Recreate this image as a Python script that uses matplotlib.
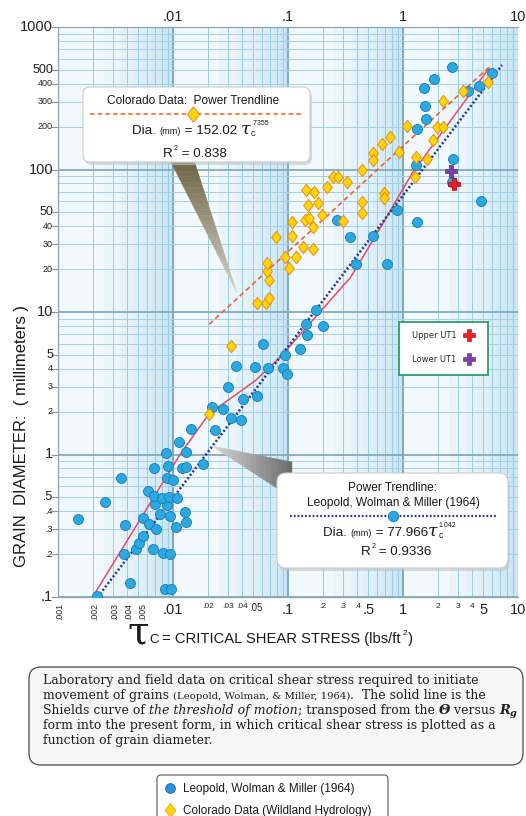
import numpy as np
import matplotlib
matplotlib.use('Agg')
import matplotlib.pyplot as plt
from matplotlib.patches import FancyBboxPatch, Polygon, Rectangle
from matplotlib.transforms import Affine2D, blended_transform_factory
from matplotlib.lines import Line2D
from matplotlib.path import Path

# ---------------- data ----------------
leopold_tau = [0.00218, 0.00423, 0.00851, 0.00961, 0.00375, 0.00476, 0.00506, 0.00548, 0.00670, 0.00818, 0.00942,
               0.00149, 0.00383, 0.00548, 0.00618, 0.00711, 0.00771, 0.00942, 0.0127, 0.0130, 0.0106,
               0.00257, 0.00697, 0.00887, 0.00607, 0.00684, 0.00802, 0.00923, 0.0108,
               0.00353, 0.00887, 0.0100, 0.00684, 0.00906, 0.0120, 0.0130, 0.0182,
               0.00869, 0.0130, 0.0113, 0.0144, 0.0232, 0.0319, 0.0390, 0.0218, 0.0272, 0.0407, 0.0537, 0.0301,
               0.0353, 0.0516, 0.0670, 0.0906, 0.0980, 0.0942, 0.127, 0.0607, 0.146, 0.144, 0.201, 0.175,
               0.390, 0.726, 0.346, 0.548, 0.267, 0.887, 1.32, 4.77,
               2.67, 2.72, 1.30, 1.32, 1.58, 1.55, 1.52, 1.86, 2.67, 3.67, 4.58, 5.94]
leopold_d = [0.102, 0.125, 0.114, 0.114, 0.200, 0.217, 0.240, 0.268, 0.217, 0.204, 0.200,
             0.353, 0.321, 0.359, 0.326, 0.301, 0.383, 0.371, 0.396, 0.337, 0.310,
             0.466, 0.451, 0.444, 0.556, 0.513, 0.497, 0.505, 0.497,
             0.687, 0.687, 0.664, 0.807, 0.834, 0.807, 0.820, 0.861,
             1.03, 1.04, 1.23, 1.52, 1.49, 1.81, 1.75, 2.17, 2.10, 2.47, 2.59, 2.99,
             4.21, 4.14, 4.07, 4.07, 3.70, 5.03, 5.54, 6.01, 6.95, 8.30, 8.04, 10.3,
             21.6, 21.6, 33.4, 34.0, 44.0, 51.7, 42.6, 59.8,
             81.3, 118, 107, 192, 225, 279, 372, 431, 523, 355, 385, 475]

colorado_tau = [0.0206, 0.0319, 0.0537, 0.0645, 0.0684, 0.0684, 0.0656, 0.0656, 0.102, 0.0942, 0.117, 0.135, 0.165,
                0.0787, 0.108, 0.144, 0.168, 0.218, 0.149, 0.182, 0.108, 0.141, 0.152, 0.198, 0.165,
                5.48, 3.33, 2.23, 1.98, 2.23, 1.82, 1.08, 0.771, 0.656, 0.548, 0.548, 0.922, 1.30, 1.62, 1.27,
                0.440, 0.326, 0.246, 0.272, 0.684, 0.684, 0.440, 0.440, 0.301]
colorado_d = [1.93, 5.81, 11.5, 11.5, 12.6, 16.9, 19.3, 21.9, 20.5, 24.2, 24.2, 28.4, 27.5,
              33.4, 34.0, 71.5, 69.2, 75.0, 56.1, 57.9, 42.6, 44.0, 45.4, 47.7, 39.3,
              410, 355, 302, 198, 198, 161, 201, 169, 151, 130, 116, 132, 122, 118, 88.2,
              98.8, 81.3, 88.2, 88.2, 68.1, 62.8, 58.9, 49.2, 43.3]

upper_ut1_tau = [2.78]
upper_ut1_d = [78.8]
lower_ut1_tau = [2.61]
lower_ut1_d = [97.2]

colorado_fit_tau = [0.0206, 5.48]
colorado_fit_d = [8.2, 515]
leopold_fit_tau = [0.00232, 7.26]
leopold_fit_d = [0.105, 541]
shields_tau = [0.002, 0.0115, 0.0206, 0.052, 0.085, 0.35, 0.55, 1.2, 5.6]
shields_d = [0.1, 1.0, 1.93, 3.3, 4.8, 17.5, 32, 94, 515]

x_ticks = [.001, .002, .003, .004, .005, .01, .02, .03, .04, .05, .1, .2, .3, .4, .5, 1, 2, 3, 4, 5, 10]
x_labels = ['.001', '.002', '.003', '.004', '.005', '.01', '.02', '.03', '.04', '.05', '.1',
            '.2', '.3', '.4', '.5', '1', '2', '3', '4', '5', '10']
x_kind = ['r', 'r', 'r', 'r', 'r', 'b', 's', 's', 's', 'm', 'b', 's', 's', 's', 'b', 'b', 's', 's', 's', 'b', 'b']
top_ticks = [.01, .1, 1, 10]
top_labels = ['.01', '.1', '1', '10']
y_ticks = [1000, 500, 400, 300, 200, 100, 50, 40, 30, 20, 10, 5, 4, 3, 2, 1, .5, .4, .3, .2, .1]
y_labels = ['1000', '500', '400', '300', '200', '100', '50', '40', '30', '20', '10', '5', '4', '3', '2',
            '1', '.5', '.4', '.3', '.2', '.1']
y_kind = ['b', 'm', 's', 's', 's', 'b', 'm', 's', 's', 's', 'b', 'm', 's', 's', 's', 'b', 'm', 's', 's', 's', 'b']

# ---------------- figure ----------------
W, H = 526, 816
fig = plt.figure(figsize=(W / 100, H / 100), dpi=100)
fig.patch.set_facecolor('white')
PX = Affine2D().scale(1, -1).translate(0, H)   # top-left pixel coordinates

SANS = ['Liberation Sans', 'DejaVu Sans']
NARROW = ['Liberation Sans Narrow', 'Liberation Sans', 'DejaVu Sans']
SERIF = ['DejaVu Serif']

L, R, T, B = 58, 518, 27, 597
ax = fig.add_axes([L / W, 1 - B / H, (R - L) / W, (B - T) / H])
ax.set_xscale('log')
ax.set_yscale('log')
ax.set_xlim(1e-3, 10)
ax.set_ylim(0.1, 1000)
ax.set_facecolor('#f2f9fc')

# graph-paper shading
for k in range(-3, 1):
    base = 10.0 ** k
    for lo, hi, a in [(2.5, 3.5, 0.10), (3.5, 4.5, 0.18), (4.5, 5.5, 0.26), (5.5, 6.5, 0.33),
                      (6.5, 7.5, 0.40), (7.5, 8.5, 0.47), (8.5, 10, 0.55)]:
        ax.axvspan(lo * base, hi * base, color='#a9d8ee', alpha=a, lw=0, zorder=0)

# grid
for k in range(-3, 1):
    for m in range(1, 10):
        x = m * 10.0 ** k
        if m == 1:
            ax.axvline(x, color='#6f9cb4', lw=1.2, zorder=1)
        else:
            ax.axvline(x, color='#9ccbe0', lw=0.7, zorder=1)
for k in range(-1, 3):
    for m in range(1, 10):
        y = m * 10.0 ** k
        if m == 1:
            ax.axhline(y, color='#7ba4b9', lw=1.2, zorder=1)
        else:
            ax.axhline(y, color='#a8d0e2', lw=0.7, zorder=1)
ax.axhline(1000, color='#7ba4b9', lw=1.2, zorder=1)

for s in ax.spines.values():
    s.set_color('#8fa3ae')
    s.set_linewidth(0.9)
ax.spines['right'].set_visible(False)

ax.set_yticks(y_ticks)
ax.set_yticklabels([])
ax.set_xticks(x_ticks)
ax.set_xticklabels([])
ax.minorticks_off()
ax.tick_params(axis='y', length=5, color='#8899a6', width=0.8)
ax.tick_params(axis='x', length=0)

# lines
ax.plot(shields_tau, shields_d, color='#e8486a', lw=1.1, zorder=3)
ax.plot(leopold_fit_tau, leopold_fit_d, color='#25358c', lw=1.8, ls=(0, (0.8, 0.9)), zorder=3)
ax.plot(colorado_fit_tau, colorado_fit_d, color='#f0622a', lw=1.2, ls=(0, (3, 2)), zorder=3)

# points
diamond = Path([(0, 1), (0.78, 0), (0, -1), (-0.78, 0), (0, 1)],
               [Path.MOVETO, Path.LINETO, Path.LINETO, Path.LINETO, Path.CLOSEPOLY])
ax.scatter(leopold_tau, leopold_d, s=52, c='#2ba8e0', edgecolors='#1a78b0', linewidths=0.6, zorder=4)
ax.scatter(colorado_tau, colorado_d, s=80, marker=diamond, c='#ffd60a', edgecolors='#f08a10',
           linewidths=0.7, zorder=5)
ax.scatter(lower_ut1_tau, lower_ut1_d, s=70, marker='P', c='#7a3fa6', edgecolors='#5b2a85',
           linewidths=0.5, zorder=6)
ax.scatter(upper_ut1_tau, upper_ut1_d, s=70, marker='P', c='#ee1c25', edgecolors='#b00010',
           linewidths=0.5, zorder=6)

# tick labels
ytr = blended_transform_factory(PX, ax.transData)
xtr = blended_transform_factory(ax.transData, PX)
ysz = {'b': 10.5, 'm': 9.0, 's': 6.5}
for v, lab, kd in zip(y_ticks, y_labels, y_kind):
    ax.text(53, v, lab, transform=ytr, ha='right', va='center', fontsize=ysz[kd],
            family=NARROW, color='#222222', clip_on=False)
xsz = {'b': 10.5, 'm': 7.0, 's': 6.0, 'r': 6.3}
xoff = {'.001': 2.0, '.002': 2.0, '.003': 2.0, '.004': 1.5, '.005': 4.0, '.05': 2.0}
for v, lab, kd in zip(x_ticks, x_labels, x_kind):
    t = ax.text(v, 603, lab, transform=xtr, ha='center', va='top', fontsize=xsz[kd],
                rotation=90 if kd == 'r' else 0, family=NARROW, color='#222222', clip_on=False)
    if lab in xoff:
        t.set_transform(xtr + Affine2D().translate(xoff[lab], 0))
for v, lab in zip(top_ticks, top_labels):
    ax.text(v, 21, lab, transform=xtr, ha='center', va='baseline', fontsize=10.5,
            family=NARROW, color='#222222', clip_on=False)

# ---------------- helpers ----------------
renderer = fig.canvas.get_renderer()


def text_width(s, kw):
    t1 = fig.text(0, 0, 'x' + s + 'x', **kw)
    t0 = fig.text(0, 0, 'xx', **kw)
    w = t1.get_window_extent(renderer).width - t0.get_window_extent(renderer).width
    t1.remove()
    t0.remove()
    return w


def chain(segs, x, y, align='left', z=12):
    full = []
    for sg in segs:
        sg = list(sg)
        while len(sg) < 5:
            sg.append([0, True, 0][len(sg) - 2])
        full.append(sg)
    widths = [text_width(s, kw) for s, kw, dy, adv, dx in full]
    total = sum(w + sg[4] for w, sg in zip(widths, full) if sg[3])
    if align == 'center':
        x -= total / 2
    for w, (s, kw, dy, adv, dx) in zip(widths, full):
        x += dx
        fig.text(x, y + dy, s, transform=PX, ha='left', va='baseline', zorder=z, **kw)
        if adv:
            x += w


def wedge(tip, b1, b2, c_tip, c_base, n=24, z=6):
    tip = np.array(tip, float)
    b1 = np.array(b1, float)
    b2 = np.array(b2, float)
    ct = np.array(matplotlib.colors.to_rgb(c_tip))
    cb = np.array(matplotlib.colors.to_rgb(c_base))
    for i in range(n):
        t0, t1 = i / n, (i + 1) / n
        p = [tip + t0 * (b1 - tip), tip + t1 * (b1 - tip), tip + t1 * (b2 - tip), tip + t0 * (b2 - tip)]
        c = ct + (cb - ct) * (t0 + t1) / 2
        fig.add_artist(Polygon(p, closed=True, transform=PX, fc=c, ec=c, lw=0.3, zorder=z))


def box(x, y, w, h, r, fc='white', ec='#cccccc', lw=0.8, z=8, shadow=False):
    if shadow:
        fig.add_artist(FancyBboxPatch((x + 2, y + 3), w, h, boxstyle=f'round,pad=0,rounding_size={r}',
                                      transform=PX, fc='#b8c4cc', ec='none', alpha=0.6, zorder=z - 0.5))
    fig.add_artist(FancyBboxPatch((x, y), w, h, boxstyle=f'round,pad=0,rounding_size={r}',
                                  transform=PX, fc=fc, ec=ec, lw=lw, zorder=z))


# ---------------- callout wedges ----------------
wedge((237, 293), (170, 160), (194, 160), '#d4d2c8', '#6e6242')
wedge((212, 446), (292, 462), (292, 498), '#d8d8d8', '#6b6b6b')

# ---------------- Colorado callout ----------------
box(83, 87, 227, 75, 7, shadow=True)
lab = dict(family=SANS, fontsize=8.6, color='#1a1a1a')
chain([("Colorado Data:  Power Trendline", lab)], 193, 104, align='center')
fig.add_artist(Line2D([90, 303], [114, 114], transform=PX, color='#f0622a', lw=1.1, ls=(0, (3, 2)), zorder=11))
fig.add_artist(Line2D([193], [114], transform=PX, marker=diamond, ms=11, mfc='#ffd60a', mec='#f08a10',
                      mew=0.7, zorder=12))
big = dict(family=SANS, fontsize=9.6, color='#1a1a1a')
small = dict(family=SANS, fontsize=6.6, color='#1a1a1a')
taukw = dict(family=['DejaVu Serif'], style='italic', fontsize=12.5, color='#1a1a1a')
subkw = dict(family=SANS, fontsize=6.5, color='#1a1a1a')
supkw = dict(family=SANS, fontsize=5.0, color='#1a1a1a')
chain([("Dia. ", big), ("(mm)", small), (" = 152.02 ", big), ("τ", taukw),
       ("c", subkw, 2, False, 0.5), (".7355", supkw, -9, True, 0)], 132, 134)
chain([("R", big), ("2", supkw, -7, True, 1), (" = 0.838", big)], 195, 157, align='center')

# ---------------- Leopold callout ----------------
box(277, 473, 231, 95, 9, shadow=True)
chain([("Power Trendline:", lab)], 393, 491, align='center')
chain([("Leopold, Wolman & Miller (1964)", lab)], 393, 506, align='center')
fig.add_artist(Line2D([290, 497], [516, 516], transform=PX, color='#25358c', lw=1.6, ls=(0, (0.8, 0.9)), zorder=11))
fig.add_artist(Line2D([393], [516], transform=PX, marker='o', ms=7.5, mfc='#2ba8e0', mec='#1a78b0',
                      mew=0.6, zorder=12))
chain([("Dia. ", big), ("(mm)", small), (" = 77.966", big), ("τ", taukw),
       ("c", subkw, 2, False, 0.5), ("1.042", supkw, -9, True, 0)], 323, 536)
chain([("R", big), ("2", supkw, -7, True, 1), (" = 0.9336", big)], 396, 555, align='center')

# ---------------- UT1 legend ----------------
fig.add_artist(Rectangle((399, 322), 89, 53, transform=PX, fc='white', ec='#2f9c6c', lw=1.3, zorder=8))
ut = dict(family=['DejaVu Sans'], fontsize=6.0, color='#2a2a3a')
fig.text(412, 338, "Upper UT1", transform=PX, ha='left', va='baseline', zorder=12, **ut)
fig.text(412, 362, "Lower UT1", transform=PX, ha='left', va='baseline', zorder=12, **ut)
fig.add_artist(Line2D([469], [335], transform=PX, marker='P', ms=8, mfc='#ee1c25', mec='#b00010',
                      mew=0.4, zorder=12))
fig.add_artist(Line2D([469], [359], transform=PX, marker='P', ms=8, mfc='#7a3fa6', mec='#5b2a85',
                      mew=0.4, zorder=12))

# ---------------- axis titles ----------------
fig.text(22, 436, "GRAIN  DIAMETER:  ( millimeters )", transform=PX, rotation=90, ha='center',
         va='center', family=SANS, fontsize=12, color='#1a1a1a')
xl = dict(family=NARROW, fontsize=10.6, color='#1a1a1a')
chain([("τ", dict(family=['DejaVu Serif'], fontsize=28, color='#1a1a1a')),
       ("C", dict(family=SANS, fontsize=9.5, color='#1a1a1a'), 0, True, 0.5),
       (" = CRITICAL SHEAR STRESS (lbs/ft", xl),
       ("2", dict(family=SANS, fontsize=6.0, color='#1a1a1a'), -8, True, 1.5),
       (")", xl, 0, True, 0.5)], 127, 643)

# ---------------- caption ----------------
box(29, 667, 494, 98, 12, fc='#f6f6f6', ec='#5a5a5a', lw=1.0, z=8)
cap = dict(family=SERIF, fontsize=9.0, color='#1e1e1e')
caps = dict(family=SERIF, fontsize=7.3, color='#1e1e1e')
capi = dict(family=SERIF, fontsize=9.0, style='italic', color='#1e1e1e')
capbi = dict(family=SERIF, fontsize=9.4, style='italic', weight='bold', color='#1e1e1e')
capbis = dict(family=SERIF, fontsize=7.0, style='italic', weight='bold', color='#1e1e1e')
chain([("Laboratory and field data on critical shear stress required to initiate", cap)], 43, 684)
chain([("movement of grains ", cap), ("(Leopold, Wolman, & Miller, 1964)", caps),
       (".  The solid line is the", cap)], 43, 699)
chain([("Shields curve of ", cap), ("the threshold of motion", capi), ("; transposed from the ", cap),
       ("Θ", capbi), (" versus ", cap), ("R", capbi), ("g", capbis, 2)], 43, 714)
chain([("form into the present form, in which critical shear stress is plotted as a", cap)], 43, 729)
chain([("function of grain diameter.", cap)], 43, 744)

# ---------------- bottom legend ----------------
box(157, 775, 231, 60, 4, fc='white', ec='#6a6a6a', lw=0.9, z=8)
fig.add_artist(Line2D([170], [788], transform=PX, marker='o', ms=7, mfc='#2b8fe0', mec='#1a60b0',
                      mew=0.6, zorder=12))
fig.add_artist(Line2D([170], [810], transform=PX, marker=diamond, ms=10, mfc='#ffd60a', mec='#f0a010',
                      mew=0.6, zorder=12))
lg = dict(family=SANS, fontsize=8.5, color='#1a1a1a')
fig.text(183, 792, "Leopold, Wolman & Miller (1964)", transform=PX, ha='left', va='baseline', zorder=12, **lg)
fig.text(183, 814, "Colorado Data (Wildland Hydrology)", transform=PX, ha='left', va='baseline', zorder=12, **lg)

fig.savefig('out.png', dpi=100)
